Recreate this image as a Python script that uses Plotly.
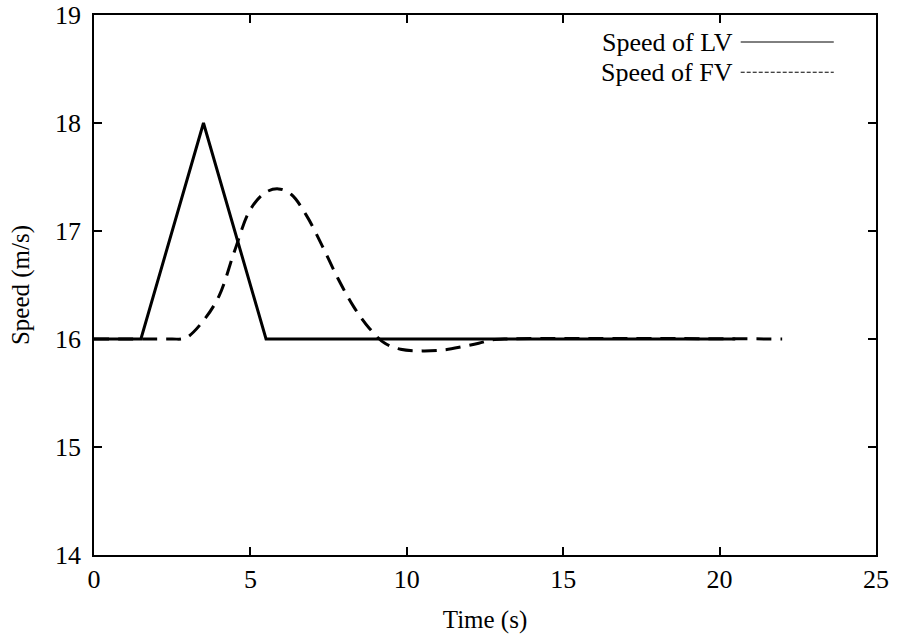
import plotly.graph_objects as go

# Data
lv_time = [0.0, 1.5, 3.5, 5.5, 20.5]
lv_speed = [16.0, 16.0, 18.0, 16.0, 16.0]

fv_time = [0.0, 2.5, 2.8, 3.0, 3.5, 4.0, 4.5, 5.0, 5.5, 5.9, 6.3, 6.8, 7.3, 7.8,
           8.3, 8.8, 9.3, 9.8, 10.5, 11.2, 11.8, 12.3, 12.7, 13.2, 22.0]
fv_speed = [16.0, 16.0, 16.0, 16.02, 16.17, 16.4, 16.82, 17.2, 17.36, 17.39, 17.34,
            17.14, 16.86, 16.56, 16.3, 16.1, 15.96, 15.905, 15.89, 15.9, 15.93,
            15.96, 15.99, 16.0, 16.0]

legend_labels = ["Speed of LV", "Speed of FV"]

FONT = "Liberation Serif"

fig = go.Figure()
fig.add_trace(go.Scatter(x=fv_time, y=fv_speed, mode="lines", name=legend_labels[1],
                         line=dict(color="black", width=3, dash="15px,9px", shape="spline", smoothing=1.0),
                         showlegend=False))
fig.add_trace(go.Scatter(x=lv_time, y=lv_speed, mode="lines", name=legend_labels[0],
                         line=dict(color="black", width=3), showlegend=False))

# legend drawn manually (text left of the line sample, as in reference)
leg_y = [0.95, 0.894]
for lab, yy, dash in zip(legend_labels, leg_y, ["solid", "4px,2px"]):
    fig.add_annotation(x=0.8197, y=yy, xref="paper", yref="paper", text=lab,
                       showarrow=False, xanchor="right", yanchor="middle",
                       font=dict(family=FONT, size=26, color="black"))
    fig.add_shape(type="line", xref="paper", yref="paper", x0=0.827, x1=0.946,
                  y0=yy, y1=yy, line=dict(color="black", width=1, dash=dash))

axis_common = dict(showline=True, linecolor="black", linewidth=1.5, mirror="ticks",
                   ticks="inside", ticklen=8, tickcolor="black", tickwidth=1.5,
                   showgrid=False, zeroline=False, automargin=False,
                   tickfont=dict(family=FONT, size=26, color="black"))

fig.update_xaxes(range=[0, 25], tickvals=[0, 5, 10, 15, 20, 25],
                 title=dict(text="Time (s)", font=dict(family=FONT, size=25, color="black"), standoff=18),
                 ticklabelstandoff=0, **axis_common)
fig.update_yaxes(range=[14, 19], tickvals=[14, 15, 16, 17, 18, 19],
                 title=dict(text="Speed (m/s)", font=dict(family=FONT, size=25, color="black"), standoff=18),
                 ticklabelstandoff=6, **axis_common)

fig.update_layout(width=900, height=639, margin=dict(l=94, r=24, t=15, b=84),
                  plot_bgcolor="white", paper_bgcolor="white")

fig.write_html("out.html")
